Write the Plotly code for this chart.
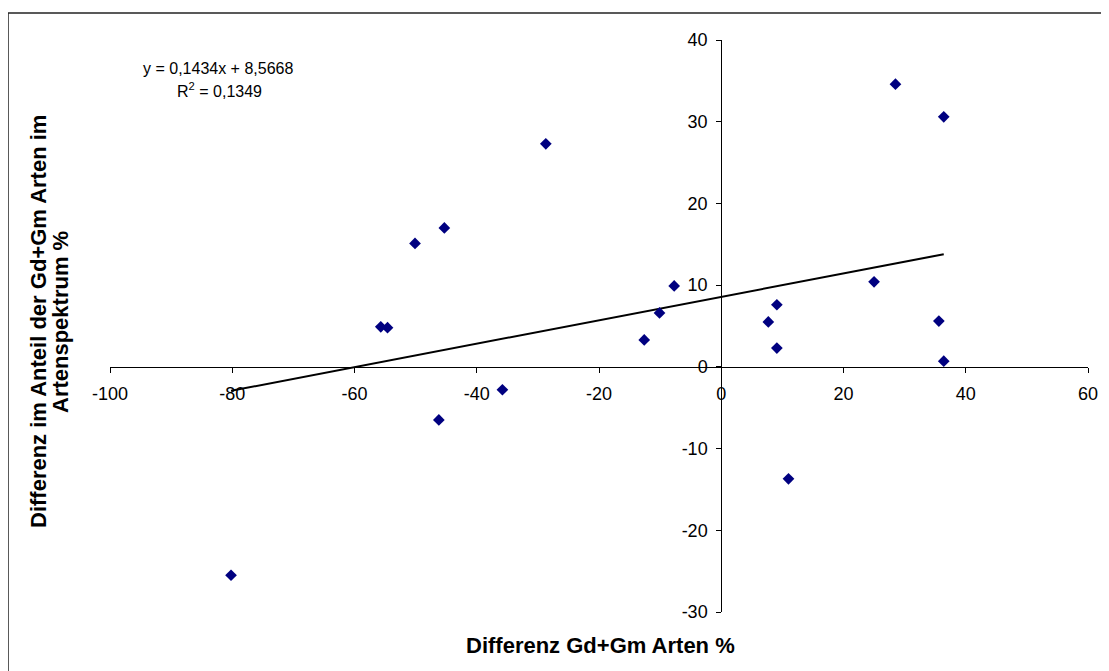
import plotly.graph_objects as go

# Data
x_vals = [-80.2, -55.7, -54.6, -50.1, -46.2, -45.3, -35.8, -28.7, -12.6, -10.1,
          -7.7, 7.7, 9.1, 9.1, 11.0, 25.0, 28.5, 35.6, 36.4, 36.4]
y_vals = [-25.5, 4.9, 4.8, 15.1, -6.5, 17.0, -2.8, 27.3, 3.3, 6.6,
          9.9, 5.5, 7.6, 2.3, -13.7, 10.4, 34.6, 5.6, 30.6, 0.7]

slope = 0.1434
intercept = 8.5668

x_ticks = [-100, -80, -60, -40, -20, 0, 20, 40, 60]
y_ticks = [-30, -20, -10, 0, 10, 20, 30, 40]

x_range = [-100, 60]
y_range = [-30, 40]

FONT = "Liberation Sans, Arial, sans-serif"

trend_x = [min(x_vals), max(x_vals)]
trend_y = [slope * v + intercept for v in trend_x]

fig = go.Figure()
fig.add_trace(go.Scatter(x=trend_x, y=trend_y, mode="lines",
                         line=dict(color="black", width=2), showlegend=False,
                         hoverinfo="skip"))
fig.add_trace(go.Scatter(x=x_vals, y=y_vals, mode="markers",
                         marker=dict(symbol="diamond", size=9, color="#000080",
                                     line=dict(width=0)),
                         showlegend=False))

# axes crossing at zero
ypos = (0 - x_range[0]) / (x_range[1] - x_range[0])
xpos = (0 - y_range[0]) / (y_range[1] - y_range[0])

# page body has an 8px margin; plot area in screen px: x 110..1088, y 40..612
OFF = 8
W, H = 1101, 663
L, T = 110 - OFF, 40 - OFF
R = W - (1088 - OFF)
B = H - (612 - OFF)

fig.update_layout(
    width=W, height=H,
    margin=dict(l=L, r=R, t=T, b=B),
    paper_bgcolor="white", plot_bgcolor="white",
    font=dict(family=FONT, color="black", size=18),
    xaxis=dict(range=x_range, tickvals=x_ticks, ticktext=[str(t) for t in x_ticks],
               showgrid=False, zeroline=False, showline=True, linecolor="black",
               linewidth=1, ticks="outside", ticklen=5, tickcolor="black",
               anchor="free", position=xpos, tickfont=dict(size=18),
               ticklabelstandoff=6),
    yaxis=dict(range=y_range, tickvals=y_ticks, ticktext=[str(t) for t in y_ticks],
               showgrid=False, zeroline=False, showline=True, linecolor="black",
               linewidth=1, ticks="outside", ticklen=5, tickcolor="black",
               anchor="free", position=ypos, tickfont=dict(size=18),
               ticklabelstandoff=5),
)

def px2x(p):
    return (p - 110) / 978.0

def px2y(p):
    return (612 - p) / 572.0

annotations = [
    dict(text="y = 0,1434x + 8,5668", x=px2x(218), y=px2y(68)),
    dict(text="R<sup>2</sup> = 0,1349", x=px2x(219), y=px2y(90)),
]
anns = []
for a in annotations:
    anns.append(dict(xref="paper", yref="paper", showarrow=False,
                     xanchor="center", yanchor="middle",
                     font=dict(family=FONT, size=16, color="black"), **a))
anns.append(dict(text="<b>Differenz Gd+Gm Arten %</b>", x=px2x(600), y=px2y(645),
                 xref="paper", yref="paper", showarrow=False,
                 xanchor="center", yanchor="middle",
                 font=dict(family=FONT, size=22, color="black")))
anns.append(dict(text="<b>Differenz im Anteil der Gd+Gm Arten im</b>", x=px2x(38), y=px2y(322),
                 xref="paper", yref="paper", showarrow=False, textangle=-90,
                 xanchor="center", yanchor="middle",
                 font=dict(family=FONT, size=22, color="black")))
anns.append(dict(text="<b>Artenspektrum %</b>", x=px2x(60), y=px2y(322),
                 xref="paper", yref="paper", showarrow=False, textangle=-90,
                 xanchor="center", yanchor="middle",
                 font=dict(family=FONT, size=22, color="black")))
fig.update_layout(annotations=anns)

# outer chart-area border (top and left visible)
fig.add_shape(type="line", xref="paper", yref="paper",
              x0=px2x(8), y0=px2y(13), x1=px2x(1120), y1=px2y(13),
              line=dict(color="#222222", width=1.5))
fig.add_shape(type="line", xref="paper", yref="paper",
              x0=px2x(8), y0=px2y(13), x1=px2x(8), y1=px2y(690),
              line=dict(color="#222222", width=1.5))

fig.write_html("out.html")
